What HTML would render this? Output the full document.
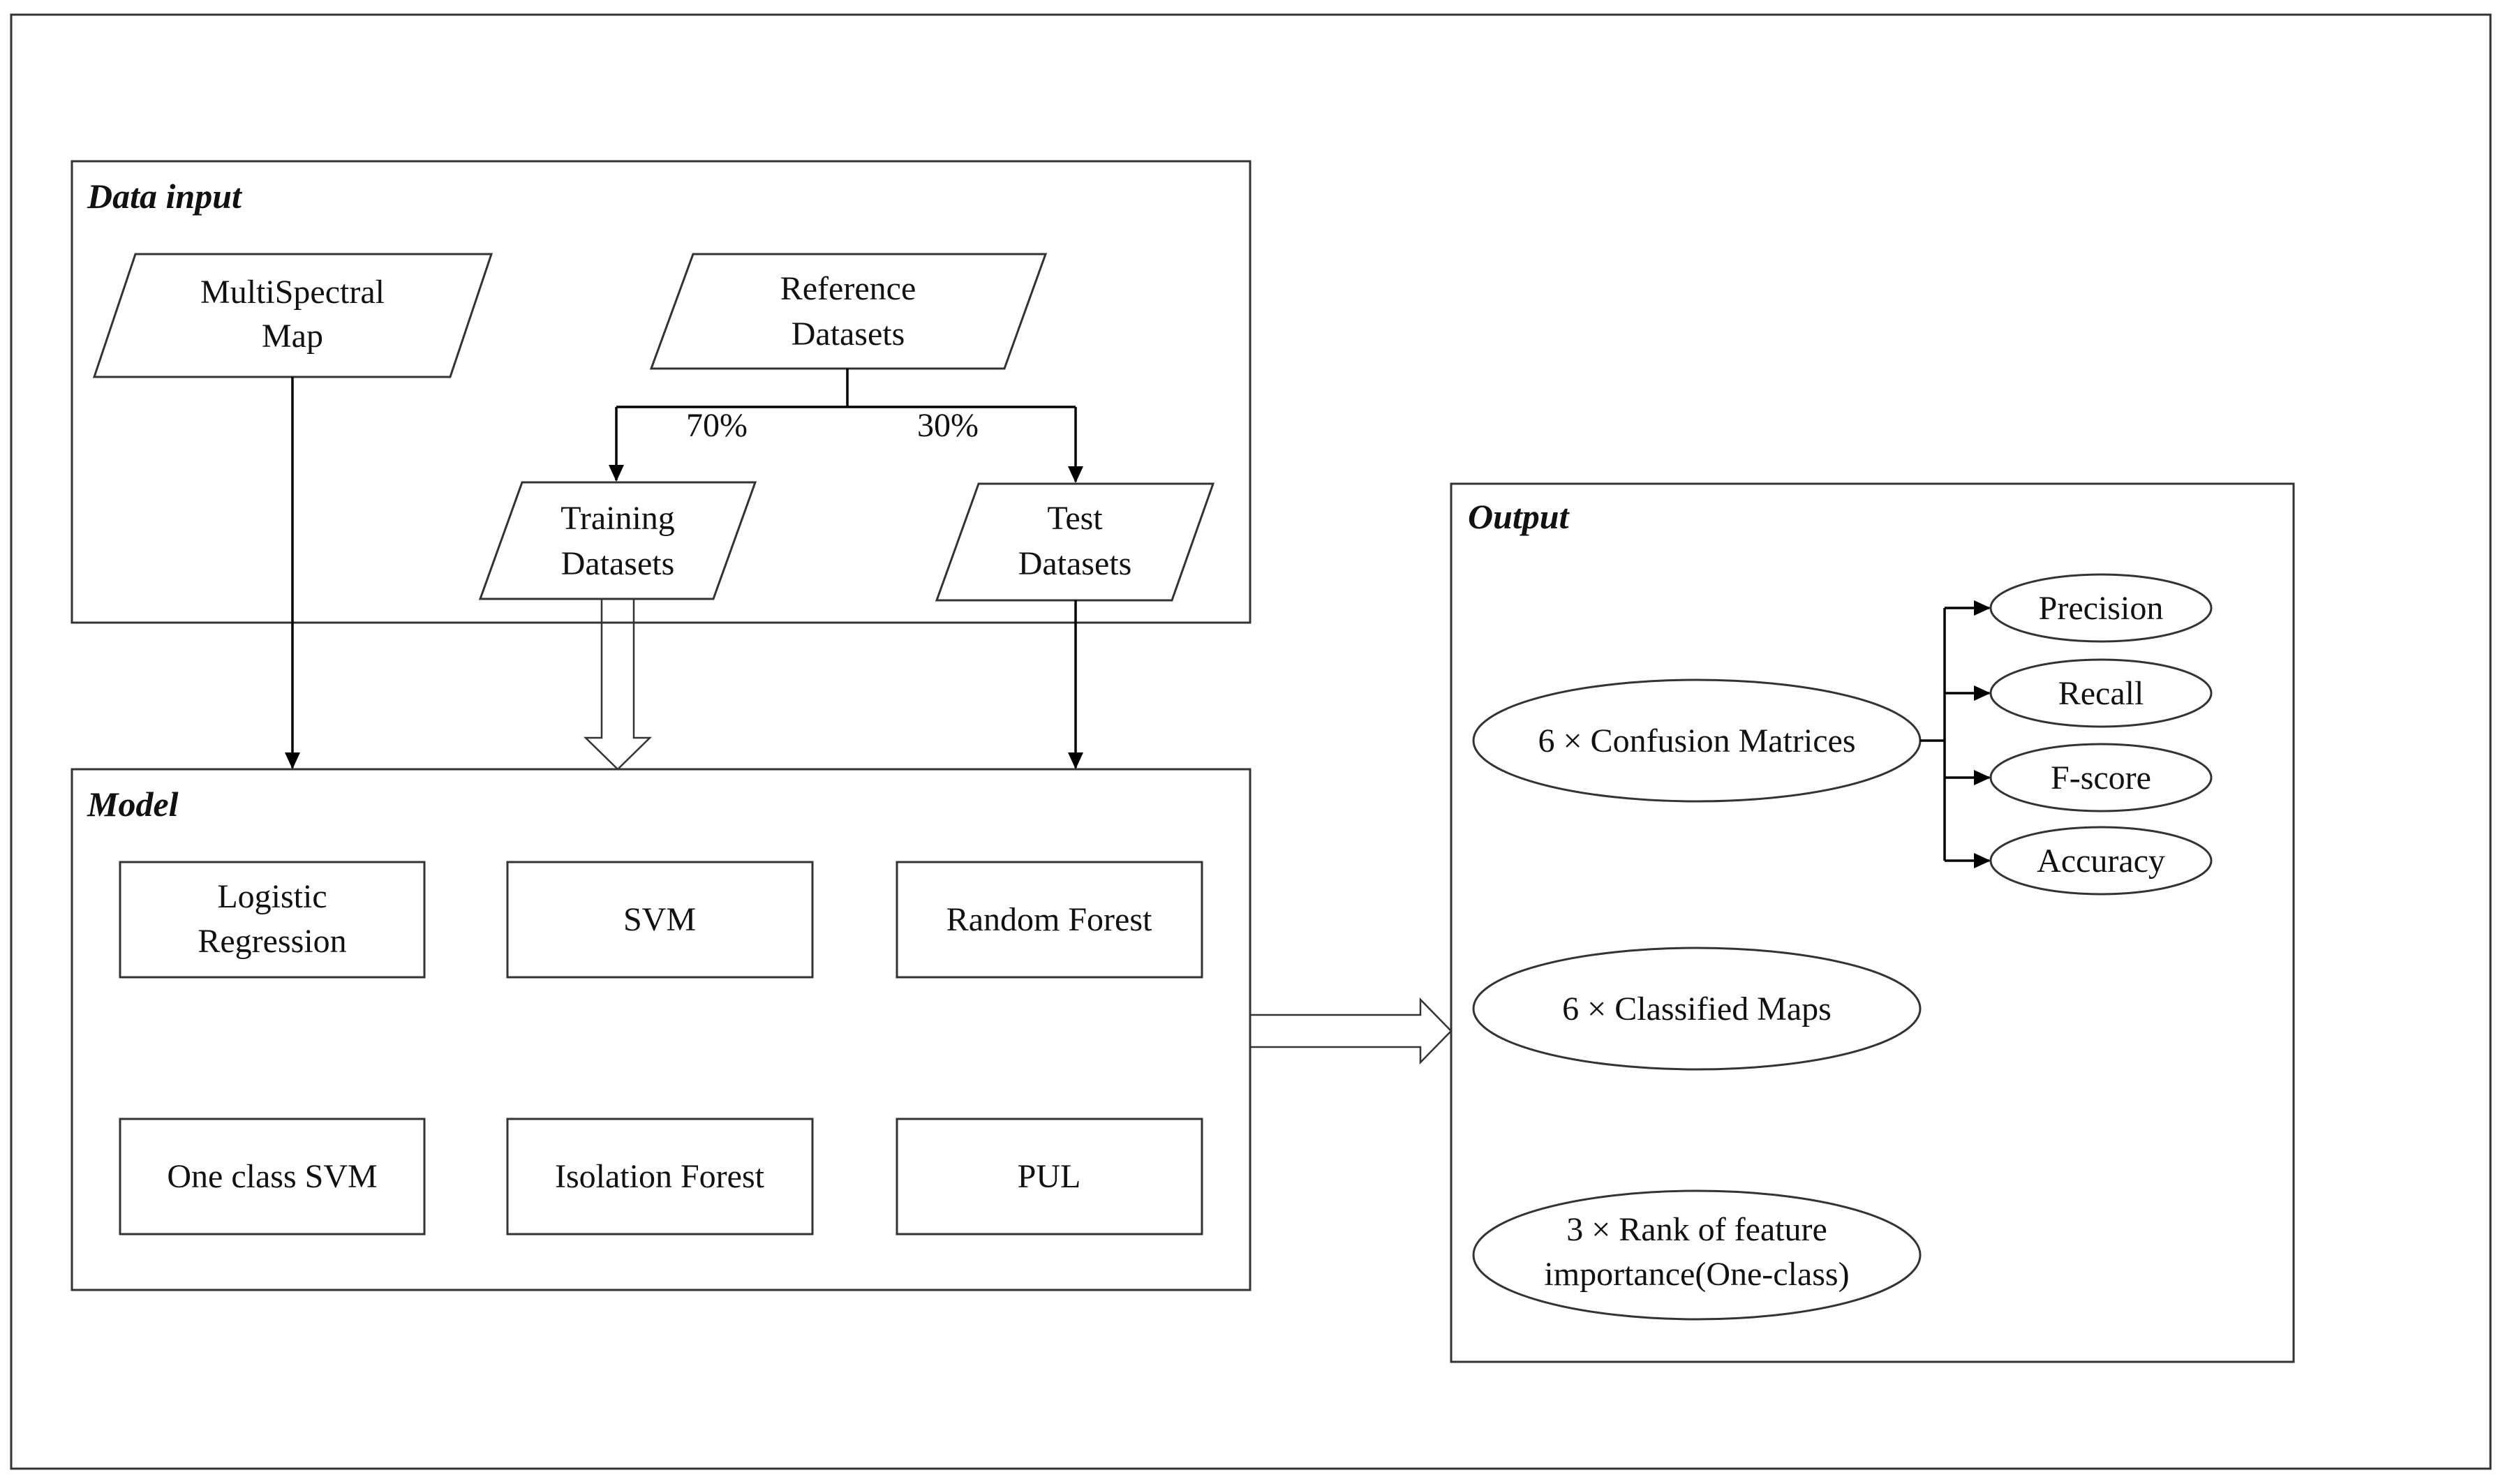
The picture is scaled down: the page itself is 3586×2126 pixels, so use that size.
<!DOCTYPE html>
<html><head><meta charset="utf-8"><style>
html,body{margin:0;padding:0;background:#fff}
svg{display:block}
text{font-family:"Liberation Serif",serif;fill:#111}
</style></head><body>
<svg width="3586" height="2126" viewBox="0 0 3586 2126" xmlns="http://www.w3.org/2000/svg">
<defs>
<marker id="a" markerWidth="24" markerHeight="22" refX="22" refY="11" orient="auto" markerUnits="userSpaceOnUse" viewBox="0 0 24 22"><path d="M0,0 L24,11 L0,22 z" fill="#000"/></marker>
</defs>
<rect width="3586" height="2126" fill="#fff"/>
<g fill="none" stroke="#333" stroke-width="3">
<rect x="16" y="21" width="3552" height="2083"/>
<rect x="103" y="231" width="1688" height="661"/>
<rect x="103" y="1102" width="1688" height="746"/>
<rect x="2079" y="693" width="1207" height="1258"/>
<polygon points="194,364 704,364 645,540 135,540"/>
<polygon points="993,364 1498,364 1439,528 933,528"/>
<polygon points="748,691 1082,691 1022,858 688,858"/>
<polygon points="1402,693 1738,693 1679,860 1342,860"/>
<rect x="172" y="1235" width="436" height="165"/>
<rect x="727" y="1235" width="437" height="165"/>
<rect x="1285" y="1235" width="437" height="165"/>
<rect x="172" y="1603" width="436" height="165"/>
<rect x="727" y="1603" width="437" height="165"/>
<rect x="1285" y="1603" width="437" height="165"/>
<ellipse cx="2431" cy="1061" rx="320" ry="87"/>
<ellipse cx="2431" cy="1445" rx="320" ry="87"/>
<ellipse cx="2431" cy="1798" rx="320" ry="92"/>
<ellipse cx="3010" cy="871" rx="158" ry="48"/>
<ellipse cx="3010" cy="993" rx="158" ry="48"/>
<ellipse cx="3010" cy="1114" rx="158" ry="48"/>
<ellipse cx="3010" cy="1233" rx="158" ry="48"/>
<polygon points="862,858 908,858 908,1057 931,1057 885,1102 839,1057 862,1057" stroke-width="2.5"/>
<polygon points="1791,1454 2035,1454 2035,1432 2079,1477 2035,1522 2035,1500 1791,1500" stroke-width="2.5"/>
</g>
<g fill="none" stroke="#000" stroke-width="3.5">
<path d="M1214,528 V583 M883,583 H1541"/>
<path d="M883,583 V688" marker-end="url(#a)"/>
<path d="M1541,583 V690" marker-end="url(#a)"/>
<path d="M419,540 V1100" marker-end="url(#a)"/>
<path d="M1541,860 V1100" marker-end="url(#a)"/>
<path d="M2751,1061 H2786 M2786,871 V1233"/>
<path d="M2786,871 H2850" marker-end="url(#a)"/>
<path d="M2786,993 H2850" marker-end="url(#a)"/>
<path d="M2786,1114 H2850" marker-end="url(#a)"/>
<path d="M2786,1233 H2850" marker-end="url(#a)"/>
</g>
<g font-size="50" font-weight="bold" font-style="italic">
<text x="125" y="298">Data input</text>
<text x="125" y="1169">Model</text>
<text x="2103" y="757">Output</text>
</g>
<g font-size="48" text-anchor="middle">
<text x="419" y="434">MultiSpectral</text><text x="419" y="497">Map</text>
<text x="1215" y="429">Reference</text><text x="1215" y="494">Datasets</text>
<text x="885" y="758">Training</text><text x="885" y="823">Datasets</text>
<text x="1540" y="758">Test</text><text x="1540" y="823">Datasets</text>
<text x="1027" y="625">70%</text><text x="1358" y="625">30%</text>
<text x="390" y="1300">Logistic</text><text x="390" y="1364">Regression</text>
<text x="945" y="1333">SVM</text>
<text x="1503" y="1333">Random Forest</text>
<text x="390" y="1701">One class SVM</text>
<text x="945" y="1701">Isolation Forest</text>
<text x="1503" y="1701">PUL</text>
<text x="2431" y="1077">6 × Confusion Matrices</text>
<text x="2431" y="1461">6 × Classified Maps</text>
<text x="2431" y="1777">3  × Rank of feature</text>
<text x="2431" y="1841">importance(One-class)</text>
<text x="3010" y="887">Precision</text>
<text x="3010" y="1009">Recall</text>
<text x="3010" y="1130">F-score</text>
<text x="3010" y="1249">Accuracy</text>
</g>
</svg>
</body></html>
